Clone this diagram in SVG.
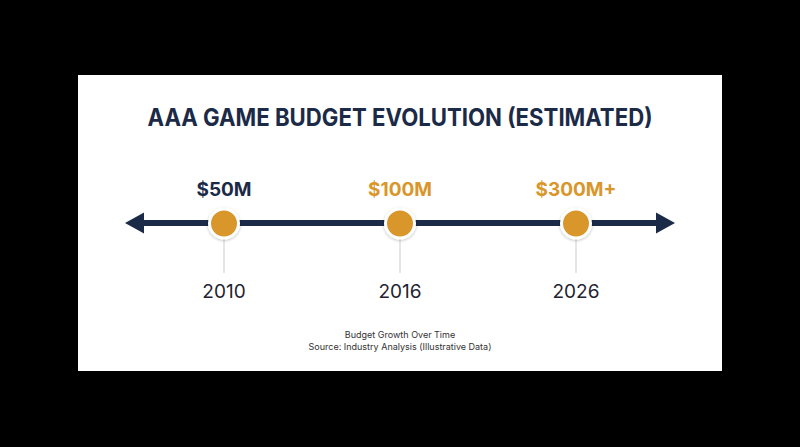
<svg xmlns="http://www.w3.org/2000/svg" width="800" height="447" viewBox="0 0 800 447">
<defs>
<style>
.title{font-family:"Inter","Noto Sans",sans-serif;font-weight:700;font-size:24px;fill:#1b2a47;text-anchor:middle}
.val{font-family:"Inter","Noto Sans",sans-serif;font-weight:700;font-size:19px;text-anchor:middle}
.year{font-family:"Inter","Noto Sans",sans-serif;font-weight:400;font-size:19px;fill:#1f2430;text-anchor:middle}
.foot{font-family:"Inter","Noto Sans",sans-serif;font-size:9px;fill:#333;text-anchor:middle}
.dot{fill:#d9962b;stroke:#fff;stroke-width:3}
.tick{stroke:#d6d6d6;stroke-width:1.2}
</style>
<filter id="sh" x="-50%" y="-50%" width="200%" height="200%">
<feDropShadow dx="0" dy="1" stdDeviation="1.5" flood-color="#000" flood-opacity="0.25"/>
</filter>
</defs>
<rect x="0" y="0" width="800" height="447" fill="#000"/>
<rect x="78" y="75" width="644" height="296" fill="#fff"/>
<text class="title" x="400" y="126" textLength="505" lengthAdjust="spacingAndGlyphs">AAA GAME BUDGET EVOLUTION (ESTIMATED)</text>
<g id="connectors">
<line x1="140" y1="223" x2="660" y2="223" stroke="#1b2a47" stroke-width="6"/>
<polygon points="125,223 144,212.5 144,233.5" fill="#1b2a47"/>
<polygon points="675,223 656,212.5 656,233.5" fill="#1b2a47"/>
<line class="tick" x1="224" y1="238" x2="224" y2="273"/>
<line class="tick" x1="400" y1="238" x2="400" y2="273"/>
<line class="tick" x1="576" y1="238" x2="576" y2="273"/>
</g>
<g id="node-2010">
<circle class="dot" cx="224" cy="223.5" r="14.5" filter="url(#sh)"/>
<text class="val" x="224" y="196" fill="#1b2a47">$50M</text>
<text class="year" x="224" y="298">2010</text>
</g>
<g id="node-2016">
<circle class="dot" cx="400" cy="223.5" r="14.5" filter="url(#sh)"/>
<text class="val" x="400" y="196" fill="#d9962b">$100M</text>
<text class="year" x="400" y="298">2016</text>
</g>
<g id="node-2026">
<circle class="dot" cx="576" cy="223.5" r="14.5" filter="url(#sh)"/>
<text class="val" x="576" y="196" fill="#d9962b">$300M+</text>
<text class="year" x="576" y="298">2026</text>
</g>
<g id="footer">
<text class="foot" x="400" y="338">Budget Growth Over Time</text>
<text class="foot" x="400" y="350">Source: Industry Analysis (Illustrative Data)</text>
</g>
</svg>
